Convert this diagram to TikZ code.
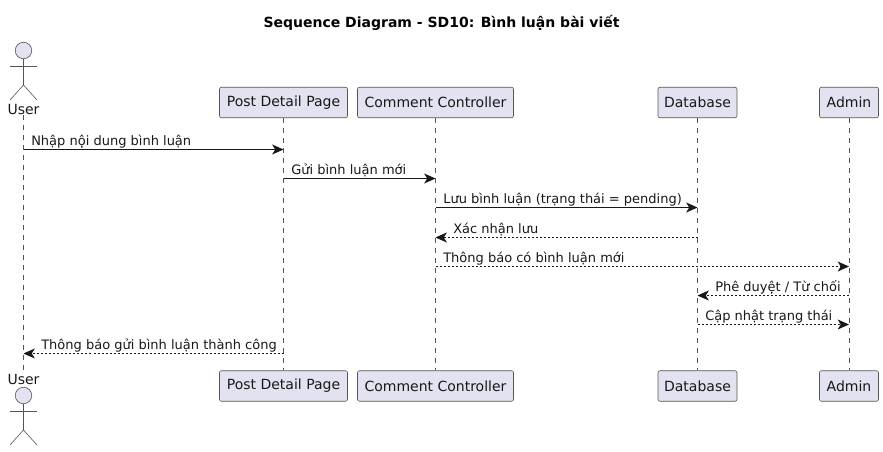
\documentclass[tikz,border=0pt]{standalone}
\usepackage{fontspec,xcolor}
\setmainfont{DejaVu Sans}
\usetikzlibrary{arrows.meta}
\definecolor{partfill}{HTML}{E2E2F0}
\definecolor{partline}{HTML}{181818}
\definecolor{thinline}{HTML}{555555}
\tikzset{
  part/.style={draw=thinline,fill=partfill,rounded corners=1.5pt,line width=0.45pt,
    minimum height=22.9pt,inner sep=0pt,text=partline,font=\fontsize{10.5}{12}\selectfont},
  actorname/.style={font=\fontsize{10.5}{12}\selectfont,inner sep=0pt,text=partline},
  lifeline/.style={draw=thinline,line width=0.35pt,dash pattern=on 3.75pt off 3.75pt},
  limb/.style={draw=thinline,line width=0.45pt},
  msg/.style={draw=partline,line width=0.55pt,-{Stealth[length=8.5pt,width=7.5pt,inset=2.3pt]}},
  reply/.style={msg,dash pattern=on 1.5pt off 1.5pt},
  msgtext/.style={font=\fontsize{9.75}{12}\selectfont,inner sep=0pt,anchor=base west,text=partline},
}
\begin{document}
\begin{tikzpicture}[x=0.75pt,y=-0.75pt]
\useasboundingbox (0,0) rectangle (883,451);

\node [font=\bfseries\fontsize{10.5}{12}\selectfont,inner sep=0pt] (title) at (441.5,23) {Sequence Diagram - SD10: Bình luận bài viết};

% participants, top and bottom row
\foreach \r/\y in {top/102.5,bot/386}{
  \node [part,minimum width=96pt] (post\r) at (283.5,\y) {Post Detail Page};
  \node [part,minimum width=117pt] (ctrl\r) at (435.5,\y) {Comment Controller};
  \node [part,minimum width=59.25pt] (db\r) at (697.5,\y) {Database};
  \node [part,minimum width=44.25pt] (admin\r) at (849,\y) {Admin};
}
\node [actorname] (usertop) at (23.5,109.5) {User};
\node [actorname] (userbot) at (23.5,379) {User};

% the two actors
\foreach \r/\y in {top/50.5,bot/395.5}{
  \node [circle,draw=thinline,fill=partfill,line width=0.45pt,minimum size=12.4pt,inner sep=0pt] (head\r) at (23.5,\y) {};
  \coordinate (hip\r) at (23.5,\y+34.5);
  \coordinate (armL\r) at (10,\y+15.5);
  \coordinate (armR\r) at (37,\y+15.5);
  \coordinate (footL\r) at (10,\y+49.5);
  \coordinate (footR\r) at (37,\y+49.5);
  \draw [limb] (head\r) -- (hip\r);
  \draw [limb] (armL\r) -- (armR\r);
  \draw [limb] (footL\r) -- (hip\r) -- (footR\r);
}

% lifelines
\draw [lifeline] (usertop) -- (userbot);
\draw [lifeline] (posttop) -- (postbot);
\draw [lifeline] (ctrltop) -- (ctrlbot);
\draw [lifeline] (dbtop) -- (dbbot);
\draw [lifeline] (admintop) -- (adminbot);

% message ends on each lifeline
\foreach \p/\x in {user/23.5,post/283.5,ctrl/435.5,db/697.5,admin/849}
  \foreach \m/\y in {1/149.5,2/178.5,3/207.5,4/237.5,5/266.5,6/295.5,7/324.5,8/353.5}
    \coordinate (\p\m) at (\x,\y);

\draw [msg] (user1) -- (post1);
\draw [msg] (post2) -- (ctrl2);
\draw [msg] (ctrl3) -- (db3);
\draw [reply] (db4) -- (ctrl4);
\draw [reply] (ctrl5) -- (admin5);
\draw [reply] (admin6) -- (db6);
\draw [reply] (db7) -- (admin7);
\draw [reply] (post8) -- (user8);

\node [msgtext] (text1) at (31,145.5) {Nhập nội dung bình luận};
\node [msgtext] (text2) at (291,174.5) {Gửi bình luận mới};
\node [msgtext] (text3) at (443,203.5) {Lưu bình luận (trạng thái = pending)};
\node [msgtext] (text4) at (453,233) {Xác nhận lưu};
\node [msgtext] (text5) at (443,262) {Thông báo có bình luận mới};
\node [msgtext] (text6) at (715,291) {Phê duyệt / Từ chối};
\node [msgtext] (text7) at (705,320) {Cập nhật trạng thái};
\node [msgtext] (text8) at (41,349) {Thông báo gửi bình luận thành công};

\end{tikzpicture}
\end{document}
